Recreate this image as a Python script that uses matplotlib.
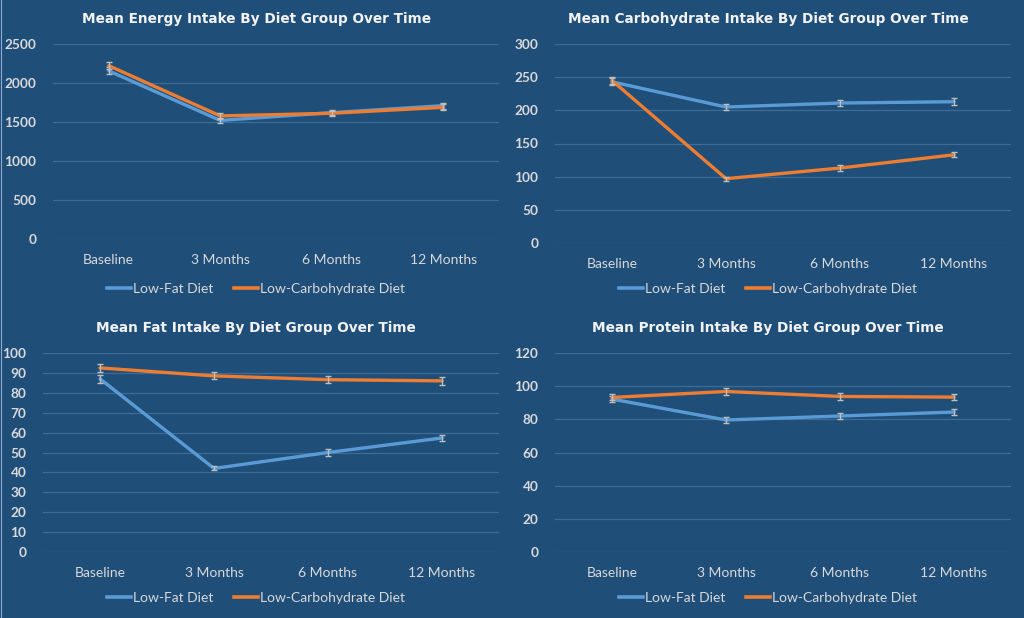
import matplotlib
matplotlib.use("Agg")
import matplotlib.pyplot as plt
from matplotlib.lines import Line2D

categories = ["Baseline", "3 Months", "6 Months", "12 Months"]
series_names = ["Low-Fat Diet", "Low-Carbohydrate Diet"]

energy_lf = [2155, 1520, 1620, 1710]
energy_lc = [2222, 1578, 1612, 1688]
energy_err_lf = [45, 35, 35, 40]
energy_err_lc = [45, 35, 35, 40]

carb_lf = [243, 205, 211, 213]
carb_lc = [245, 97, 113, 133]
carb_err_lf = [5, 4, 5, 5]
carb_err_lc = [5, 3, 4, 4]

fat_lf = [87, 42, 50, 57.3]
fat_lc = [92.5, 88.5, 86.6, 86.0]
fat_err_lf = [1.9, 1.0, 1.7, 1.6]
fat_err_lc = [1.9, 1.8, 1.9, 1.9]

protein_lf = [92.2, 79.6, 82.0, 84.4]
protein_lc = [93.2, 96.8, 93.8, 93.4]
protein_err_lf = [1.8, 1.6, 1.8, 1.8]
protein_err_lc = [1.8, 2.0, 2.0, 2.0]

titles = ["Mean Energy Intake By Diet Group Over Time",
          "Mean Carbohydrate Intake By Diet Group Over Time",
          "Mean Fat Intake By Diet Group Over Time",
          "Mean Protein Intake By Diet Group Over Time"]
yticks = [[0, 500, 1000, 1500, 2000, 2500],
          [0, 50, 100, 150, 200, 250, 300],
          [0, 10, 20, 30, 40, 50, 60, 70, 80, 90, 100],
          [0, 20, 40, 60, 80, 100, 120]]

panels = [
    (energy_lf, energy_lc, energy_err_lf, energy_err_lc),
    (carb_lf, carb_lc, carb_err_lf, carb_err_lc),
    (fat_lf, fat_lc, fat_err_lf, fat_err_lc),
    (protein_lf, protein_lc, protein_err_lf, protein_err_lc),
]

BG = "#1F4E79"
BLUE = "#5B9BD5"
ORANGE = "#ED7D31"
GRID = "#3E6C96"
TXT = "#D9D9D9"
ERR = "#BFBFBF"

W, H = 1024, 618
fig = plt.figure(figsize=(W / 100, H / 100), dpi=100, facecolor=BG)
plt.rcParams['font.family'] = ['Lato', 'DejaVu Sans']

# pixel boxes (left, top, right, bottom) and panel centres / text rows
boxes = [(53, 44, 499, 239), (555, 44, 1011, 243),
         (43, 353, 499, 552), (555, 353, 1011, 552)]
title_y = [18, 18, 327, 327]
legend_y = [289, 289, 598, 598]
panel_cx = [256, 768, 256, 768]

for i, (lf, lc, elf, elc) in enumerate(panels):
    l, t, r, b = boxes[i]
    ax = fig.add_axes([l / W, 1 - b / H, (r - l) / W, (b - t) / H])
    ax.set_facecolor(BG)
    x = list(range(len(categories)))
    ax.plot(x, lf, color=BLUE, lw=2.4, solid_capstyle='round', zorder=3)
    ax.errorbar(x, lf, yerr=elf, fmt='none', ecolor=ERR, elinewidth=1.0,
                capsize=2.5, capthick=1.0, zorder=4)
    ax.plot(x, lc, color=ORANGE, lw=2.4, solid_capstyle='round', zorder=5)
    ax.errorbar(x, lc, yerr=elc, fmt='none', ecolor=ERR, elinewidth=1.0,
                capsize=2.5, capthick=1.0, zorder=6)
    ax.set_xlim(-0.5, len(categories) - 0.5)
    ax.set_ylim(0, yticks[i][-1])
    ax.set_yticks(yticks[i])
    ax.set_yticklabels([str(v) for v in yticks[i]], fontsize=9.8,
                       color=TXT, fontweight='bold')
    ax.set_xticks(x)
    ax.set_xticklabels(categories, fontsize=10, color=TXT)
    ax.tick_params(axis='both', length=0)
    ax.tick_params(axis='y', pad=12)
    ax.tick_params(axis='x', pad=11)
    ax.grid(axis='y', color=GRID, lw=0.9)
    ax.set_axisbelow(True)
    for s in ax.spines.values():
        s.set_visible(False)
    fig.text(panel_cx[i] / W, 1 - (title_y[i] + 1) / H, titles[i],
             ha='center', va='center', color="#F2F2F2", fontsize=9.8,
             fontweight='bold', family='DejaVu Sans')
    handles = [Line2D([], [], color=BLUE, lw=2.6),
               Line2D([], [], color=ORANGE, lw=2.6)]
    fig.legend(handles, series_names, loc='center',
               bbox_to_anchor=(panel_cx[i] / W, 1 - legend_y[i] / H),
               ncol=2, frameon=False, fontsize=10, labelcolor=TXT,
               handlelength=1.7, handletextpad=0.15, columnspacing=1.5)

fig.add_artist(Line2D([0.5 / W, 0.5 / W], [0, 1], color="#8FAACC", lw=0.8,
                      transform=fig.transFigure))

fig.savefig("out.png", dpi=100, facecolor=BG)
